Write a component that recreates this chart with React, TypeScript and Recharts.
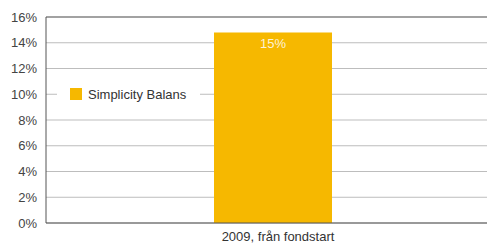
import { BarChart, Bar, XAxis, YAxis, CartesianGrid, ReferenceLine, LabelList } from "recharts";

const categories = ["2009, från fondstart"];
const seriesName = "Simplicity Balans";
const returns = [14.8];
const labels = ["15%"];
const yTicks = [0, 2, 4, 6, 8, 10, 12, 14, 16];

const data = categories.map((c, i) => ({ name: c, value: returns[i], label: labels[i] }));

const FONT = "'Liberation Sans', Arial, Helvetica, sans-serif";
const YELLOW = "#F6B800";

function LegendBox() {
  return (
    <div
      style={{
        position: "absolute",
        left: 57,
        top: 83,
        display: "flex",
        alignItems: "center",
        background: "#fff",
        padding: "0 14px 0 13px",
        height: 22,
        fontFamily: FONT,
        fontSize: 13,
        color: "#333",
      }}
    >
      <span style={{ width: 12, height: 12, background: YELLOW, marginRight: 6, display: "inline-block" }} />
      {seriesName}
    </div>
  );
}

export default function App() {
  return (
    <div style={{ position: "absolute", top: 0, left: 0, width: 487, height: 246, overflow: "hidden", background: "#fff" }}>
      <BarChart width={500} height={246} data={data} margin={{ top: 17, right: 0, left: 0, bottom: 0 }}>
        <CartesianGrid vertical={false} stroke="#bdbdbd" strokeWidth={1} />
        <XAxis
          dataKey="name"
          height={23}
          tickLine={false}
          tickSize={0}
          tickMargin={9}
          axisLine={{ stroke: "#555" }}
          tick={{ fill: "#333", fontSize: 13, fontFamily: FONT }}
          dx={5}
        />
        <YAxis
          width={46}
          domain={[0, 16]}
          ticks={yTicks}
          tickFormatter={(v: number) => `${v}%`}
          tickLine={false}
          tickSize={0}
          tickMargin={9}
          axisLine={{ stroke: "#555" }}
          tick={{ fill: "#444", fontSize: 13, fontFamily: FONT }}
          interval={0}
        />
        <ReferenceLine y={16} stroke="#666" strokeWidth={1} />
        <Bar dataKey="value" name={seriesName} fill={YELLOW} barSize={118} isAnimationActive={false}>
          <LabelList dataKey="label" position="insideTop" offset={6} fill="#fff" fillOpacity={0.85} fontSize={13} fontFamily={FONT} />
        </Bar>
      </BarChart>
      <LegendBox />
    </div>
  );
}
